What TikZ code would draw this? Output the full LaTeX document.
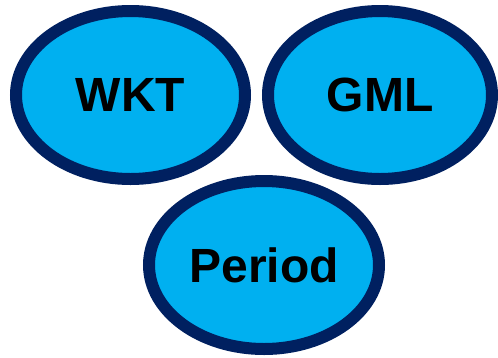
\documentclass[tikz,border=0pt]{standalone}
\usepackage{fontspec}
\setmainfont{Liberation Sans}
\usepackage{xcolor}
\usetikzlibrary{shapes.geometric}

\definecolor{fmtfill}{HTML}{00B0F0}
\definecolor{fmtline}{HTML}{002060}

\begin{document}
\begin{tikzpicture}[x=1pt,y=1pt,
  fmtell/.style={ellipse,draw=fmtline,fill=fmtfill,line width=12pt,
    minimum width=229pt,minimum height=168pt,inner sep=0pt,
    font=\fontsize{48}{50}\selectfont\bfseries}]
  \useasboundingbox (0,0) rectangle (498,-357);

  % format bubbles
  \node[fmtell] (wkt) at (130.5,-95) {WKT};
  \node[fmtell,minimum width=224pt] (gml) at (380,-95) {GML};
  \node[fmtell,minimum width=230pt] (period) at (264,-265) {Period};
\end{tikzpicture}
\end{document}
